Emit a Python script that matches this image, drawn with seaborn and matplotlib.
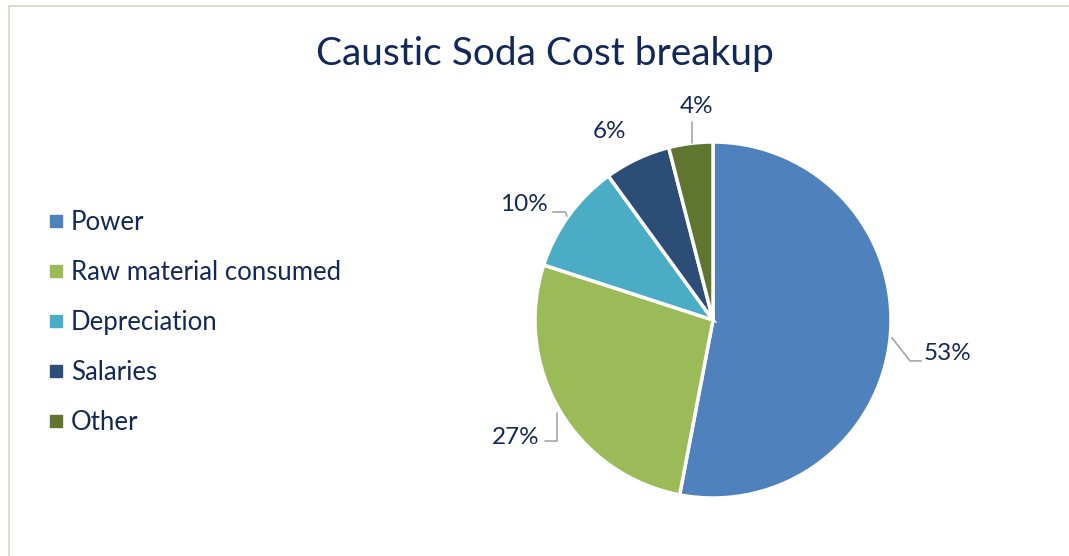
import numpy as np
import matplotlib
matplotlib.use("Agg")
import matplotlib.pyplot as plt
import seaborn as sns
from matplotlib.lines import Line2D

categories = ["Power", "Raw material consumed", "Depreciation", "Salaries", "Other"]
values = [53, 27, 10, 6, 4]
labels = ["53%", "27%", "10%", "6%", "4%"]
colors = ["#4F81BD", "#9BBB59", "#4BACC6", "#2C4D75", "#5F7530"]

sns.set_theme(style="white")
plt.rcParams['font.family'] = ['Lato', 'DejaVu Sans']
TXT = "#13285A"

W, H = 1069, 556
fig = plt.figure(figsize=(W / 100, H / 100), dpi=100)
fig.patch.set_facecolor("white")

# frame
fig.add_artist(Line2D([9 / W, 9 / W], [0, 1 - 6 / H], color="#DCDCC8", lw=1.5))
fig.add_artist(Line2D([9 / W, 1], [1 - 6 / H, 1 - 6 / H], color="#DCDCC8", lw=1.5))

# pie axes: center (713, 320) radius 178 px
R = 178
lim = 1.4
size = 2 * lim * R
cx, cy = 713, H - 320
ax = fig.add_axes([(cx - size / 2) / W, (cy - size / 2) / H, size / W, size / H])
wedges, _ = ax.pie(values, colors=colors, startangle=90, counterclock=False,
                   wedgeprops=dict(edgecolor="white", linewidth=2.5))
ax.set_xlim(-lim, lim)
ax.set_ylim(-lim, lim)
ax.set_aspect("equal")
ax.axis("off")

fs_lab = 17.5
lc = "#A6A6A6"
lab_pos = [(1.32, -0.19), (-1.11, -0.66), (-1.06, 0.65), (-0.58, 1.06), (-0.09, 1.20)]
leaders = [
    [(1.005, -0.10), (1.107, -0.23), (1.17, -0.23)],
    [(-0.876, -0.52), (-0.876, -0.68), (-0.944, -0.68)],
    [(-0.82, 0.584), (-0.83, 0.607), (-0.90, 0.607)],
    None,
    [(-0.118, 0.994), (-0.118, 1.11)],
]
for (x, y), lab, ld in zip(lab_pos, labels, leaders):
    ax.text(x, y, lab, ha="center", va="center", fontsize=fs_lab, color=TXT)
    if ld:
        xs, ys = zip(*ld)
        ax.plot(xs, ys, color=lc, lw=1.2, clip_on=False)

# title
fig.text(545 / W, 1 - 54 / H, "Caustic Soda Cost breakup", ha="center", va="center",
         fontsize=28, color=TXT)

# legend
handles = [Line2D([], [], marker="s", linestyle="none", markersize=8,
                  markerfacecolor=c, markeredgecolor=c) for c in colors]
leg = fig.legend(handles, categories, loc="upper left",
                 bbox_to_anchor=(35 / W, 1 - 200 / H), frameon=False,
                 fontsize=18.5, labelspacing=0.97, handletextpad=0.2,
                 handlelength=0.8, borderaxespad=0)
for t in leg.get_texts():
    t.set_color(TXT)

fig.savefig("out.png", dpi=100, facecolor="white")
